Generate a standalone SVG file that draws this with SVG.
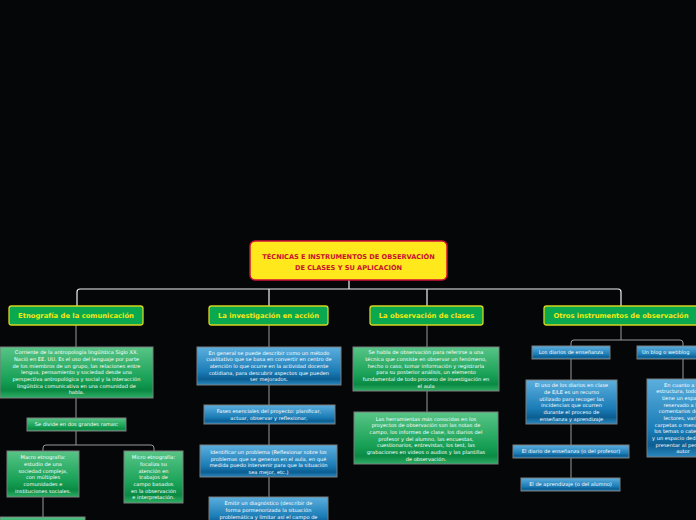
<svg xmlns="http://www.w3.org/2000/svg" width="696" height="520" viewBox="0 0 696 520">
<defs>
<linearGradient id="gG" x1="0" y1="0" x2="0" y2="1">
<stop offset="0" stop-color="#58c587"/>
<stop offset="0.65" stop-color="#17a055"/>
<stop offset="0.85" stop-color="#0a8a43"/>
<stop offset="1" stop-color="#2fae66"/>
</linearGradient>
<linearGradient id="gB" x1="0" y1="0" x2="0" y2="1">
<stop offset="0" stop-color="#5cafde"/>
<stop offset="0.65" stop-color="#1b7cb6"/>
<stop offset="0.85" stop-color="#0b5e92"/>
<stop offset="1" stop-color="#2c89c0"/>
</linearGradient>
</defs>
<style>
.root{fill:#ffe81c;stroke:#d21038;stroke-width:1.5}
.rt{font-family:"DejaVu Sans",Verdana,sans-serif;font-weight:bold;font-size:6.6px;fill:#c8102e;text-anchor:middle}
.l1{fill:#0aa84f;stroke:#d6d420;stroke-width:1.3}
.l1t{font-family:"DejaVu Sans",Verdana,sans-serif;font-weight:bold;font-size:6.8px;fill:#f4e912;text-anchor:middle}
.g{fill:url(#gG);stroke:#7d7d7d;stroke-width:1}
.b{fill:url(#gB);stroke:#7d7d7d;stroke-width:1}
.t{font-family:"DejaVu Sans",Verdana,sans-serif;font-size:5.1px;fill:#ffffff;text-anchor:middle}
.cw{fill:none;stroke:#f2f2f2;stroke-width:1.2}
.cg{fill:none;stroke:#9a9a9a;stroke-width:1}
</style>
<rect x="0" y="0" width="696" height="520" fill="#050608"/>

<g id="connectors">
<path class="cw" d="M349,280 V289 M77,306 V292 Q77,289 80,289 H618 Q621,289 621,292 V306 M269,289 V306 M427,289 V306"/>
<path class="cg" d="M76,325 V347 M76,398 V418 M76,431 V445 M43,451 V448 Q43,445 46,445 H151 Q154,445 154,448 V451 M43,497 V517"/>
<path class="cg" d="M269,325 V347 M269,385 V405 M269,424 V445 M269,477 V497"/>
<path class="cg" d="M427,325 V347 M427,391 V412"/>
<path class="cg" d="M621,325 V340 M571,346 V343 Q571,340 574,340 H680 Q683,340 683,343 V346 M571,359 V380 M571,424 V445 M571,458 V478 M683,359 V379"/>
</g>

<g id="root">
<rect class="root" x="250" y="241" width="197" height="39" rx="5"/>
<text class="rt" x="348.5" y="259">TÉCNICAS E INSTRUMENTOS DE OBSERVACIÓN</text>
<text class="rt" x="348.5" y="270">DE CLASES Y SU APLICACIÓN</text>
</g>

<g id="etnografia">
<rect class="l1" x="9" y="306" width="134" height="19" rx="2.5"/>
<text class="l1t" x="76" y="318">Etnografía de la comunicación</text>
</g>
<g id="investigacion">
<rect class="l1" x="209" y="306" width="119" height="19" rx="2.5"/>
<text class="l1t" x="268.5" y="318">La investigación en acción</text>
</g>
<g id="observacion">
<rect class="l1" x="370" y="306" width="113" height="19" rx="2.5"/>
<text class="l1t" x="426.5" y="318">La observación de clases</text>
</g>
<g id="otros">
<rect class="l1" x="544" y="306" width="155" height="19" rx="2.5"/>
<text class="l1t" x="621" y="318">Otros instrumentos de observación</text>
</g>

<g id="corriente">
<rect class="g" x="0" y="347" width="153" height="51"/>
<text class="t" x="76.5" y="354.3">Corriente de la antropología lingüística Siglo XX.<tspan x="76.5" dy="6.67">Nació en EE. UU. Es el uso del lenguaje por parte</tspan><tspan x="76.5" dy="6.67">de los miembros de un grupo, las relaciones entre</tspan><tspan x="76.5" dy="6.67">lengua, pensamiento y sociedad desde una</tspan><tspan x="76.5" dy="6.67">perspectiva antropológica y social y la interacción</tspan><tspan x="76.5" dy="6.67">lingüística comunicativa en una comunidad de</tspan><tspan x="76.5" dy="6.67">habla.</tspan></text>
</g>
<g id="divide">
<rect class="g" x="27" y="418" width="99" height="13"/>
<text class="t" x="76.5" y="426.3">Se divide en dos grandes ramas:</text>
</g>
<g id="macro">
<rect class="g" x="7" y="451" width="72" height="46"/>
<text class="t" x="43" y="459.3">Macro etnografía:<tspan x="43" dy="6.67">estudio de una</tspan><tspan x="43" dy="6.67">sociedad compleja,</tspan><tspan x="43" dy="6.67">con múltiples</tspan><tspan x="43" dy="6.67">comunidades e</tspan><tspan x="43" dy="6.67">instituciones sociales.</tspan></text>
</g>
<g id="micro">
<rect class="g" x="124" y="451" width="59" height="52"/>
<text class="t" x="153.5" y="459.3">Micro etnografía:<tspan x="153.5" dy="6.67">focaliza su</tspan><tspan x="153.5" dy="6.67">atención en</tspan><tspan x="153.5" dy="6.67">trabajos de</tspan><tspan x="153.5" dy="6.67">campo basados</tspan><tspan x="153.5" dy="6.67">en la observación</tspan><tspan x="153.5" dy="6.67">e interpretación.</tspan></text>
</g>
<g id="macro-child">
<rect class="g" x="0" y="517" width="85" height="12"/>
</g>

<g id="metodo">
<rect class="b" x="197" y="347" width="144" height="38"/>
<text class="t" x="269" y="354.5">En general se puede describir como un método<tspan x="269" dy="6.67">cualitativo que se basa en convertir en centro de</tspan><tspan x="269" dy="6.67">atención lo que ocurre en la actividad docente</tspan><tspan x="269" dy="6.67">cotidiana, para descubrir aspectos que pueden</tspan><tspan x="269" dy="6.67">ser mejorados.</tspan></text>
</g>
<g id="fases">
<rect class="b" x="204" y="405" width="131" height="19"/>
<text class="t" x="269" y="413.3">Fases esenciales del proyecto: planificar,<tspan x="269" dy="7">actuar, observar y reflexionar,</tspan></text>
</g>
<g id="identificar">
<rect class="b" x="200" y="445" width="137" height="32"/>
<text class="t" x="268.5" y="454">Identificar un problema (Reflexionar sobre los<tspan x="268.5" dy="6.67">problemas que se generan en el aula, en qué</tspan><tspan x="268.5" dy="6.67">medida puedo intervenir para que la situación</tspan><tspan x="268.5" dy="6.67">sea mejor, etc.)</tspan></text>
</g>
<g id="diagnostico">
<rect class="b" x="209" y="497" width="119" height="30"/>
<text class="t" x="268.5" y="505.2">Emitir un diagnóstico (describir de<tspan x="268.5" dy="6.67">forma pormenorizada la situación</tspan><tspan x="268.5" dy="6.67">problemática y limitar así el campo de</tspan></text>
</g>

<g id="obs-def">
<rect class="g" x="353" y="347" width="146" height="44"/>
<text class="t" x="426" y="354.3">Se habla de observación para referirse a una<tspan x="426" dy="6.67">técnica que consiste en observar un fenómeno,</tspan><tspan x="426" dy="6.67">hecho o caso, tomar información y registrarla</tspan><tspan x="426" dy="6.67">para su posterior análisis, un elemento</tspan><tspan x="426" dy="6.67">fundamental de todo proceso de investigación en</tspan><tspan x="426" dy="6.67">el aula</tspan></text>
</g>
<g id="herramientas">
<rect class="g" x="354" y="412" width="144" height="52"/>
<text class="t" x="426" y="420.6">Las herramientas más conocidas en los<tspan x="426" dy="6.67">proyectos de observación son las notas de</tspan><tspan x="426" dy="6.67">campo, los informes de clase, los diarios del</tspan><tspan x="426" dy="6.67">profesor y del alumno, las encuestas,</tspan><tspan x="426" dy="6.67">cuestionarios, entrevistas, los test, las</tspan><tspan x="426" dy="6.67">grabaciones en videos o audios y las plantillas</tspan><tspan x="426" dy="6.67">de observación.</tspan></text>
</g>

<g id="diarios">
<rect class="b" x="532" y="346" width="78" height="13"/>
<text class="t" x="571" y="354.3">Los diarios de enseñanza</text>
</g>
<g id="blog">
<rect class="b" x="637" y="346" width="92" height="13"/>
<text class="t" x="642" y="354.3" style="text-anchor:start">Un blog o webblog</text>
</g>
<g id="uso-diarios">
<rect class="b" x="526" y="380" width="91" height="44"/>
<text class="t" x="571.5" y="387.3">El uso de los diarios en clase<tspan x="571.5" dy="6.67">de E/LE es un recurso</tspan><tspan x="571.5" dy="6.67">utilizado para recoger las</tspan><tspan x="571.5" dy="6.67">incidencias que ocurren</tspan><tspan x="571.5" dy="6.67">durante el proceso de</tspan><tspan x="571.5" dy="6.67">enseñanza y aprendizaje</tspan></text>
</g>
<g id="diario-profesor">
<rect class="b" x="513" y="445" width="116" height="13"/>
<text class="t" x="571" y="453.3">El diario de enseñanza (o del profesor)</text>
</g>
<g id="diario-alumno">
<rect class="b" x="521" y="478" width="99" height="13"/>
<text class="t" x="570.5" y="486.3">El de aprendizaje (o del alumno)</text>
</g>
<g id="blog-estructura">
<rect class="b" x="647" y="379" width="72" height="78"/>
<text class="t" x="683" y="386.7">En cuanto a su<tspan x="683" dy="6.67">estructura, todo blog</tspan><tspan x="683" dy="6.67">tiene un espacio</tspan><tspan x="683" dy="6.67">reservado a los</tspan><tspan x="683" dy="6.67">comentarios de los</tspan><tspan x="683" dy="6.67">lectores, varias</tspan><tspan x="683" dy="6.67">carpetas o menús con</tspan><tspan x="683" dy="6.67">los temas o categorías</tspan><tspan x="683" dy="6.67">y un espacio dedicado a</tspan><tspan x="683" dy="6.67">presentar al perfil del</tspan><tspan x="683" dy="6.67">autor</tspan></text>
</g>
</svg>
